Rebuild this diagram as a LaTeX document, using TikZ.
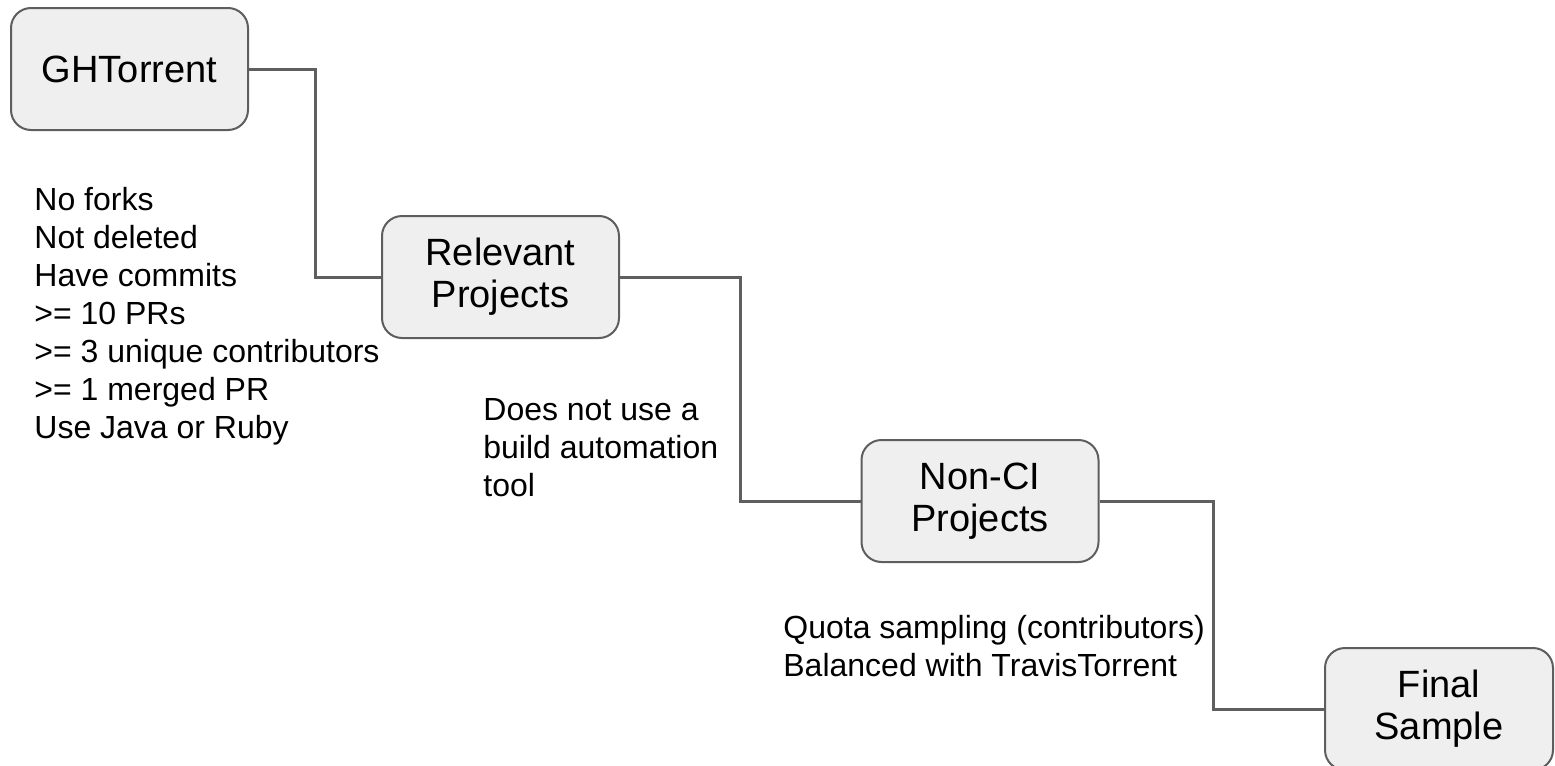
\documentclass[tikz,border=0pt]{standalone}
\usepackage{fontspec}
\setmainfont{Liberation Sans}
\definecolor{boxfill}{HTML}{EFEFEF}
\definecolor{boxline}{HTML}{5E5E5E}
\definecolor{conn}{HTML}{5F5F5F}
\tikzset{
  stagebox/.style={draw=boxline, fill=boxfill, line width=1pt, rounded corners=10pt,
    minimum width=118.5pt, minimum height=61pt, align=center, inner sep=0pt,
    font=\fontsize{19}{21}\selectfont},
  crit/.style={align=left, inner sep=0pt, anchor=base west,
    font=\fontsize{16}{19}\selectfont},
  link/.style={draw=conn, line width=1.5pt}
}
\begin{document}
\begin{tikzpicture}[x=0.5pt,y=-0.5pt]
\clip (0,0) rectangle (1555,766);
\useasboundingbox (0,0) rectangle (1555,766);
\node[stagebox] (gh) at (129.5,69) {GHTorrent};
\node[stagebox] (rel) at (500.5,277) {Relevant\\Projects};
\node[stagebox] (nci) at (980,501) {Non-CI\\Projects};
\node[stagebox, minimum width=114pt] (fin) at (1439,709) {Final\\Sample};
\coordinate (b1) at (315,170);
\coordinate (b2) at (740,390);
\coordinate (b3) at (1213,600);
\draw[link] (gh.east) -| (b1) |- (rel.west);
\draw[link] (rel.east) -| (b2) |- (nci.west);
\draw[link] (nci.east) -| (b3) |- (fin.west);
\node[crit] (c1) at (34,438) {No forks\\Not deleted\\Have commits\\>= 10 PRs\\>= 3 unique contributors\\>= 1 merged PR\\Use Java or Ruby};
\node[crit] (c2) at (483,496) {Does not use a\\build automation\\tool};
\node[crit] (c3) at (783,676) {Quota sampling (contributors)\\Balanced with TravisTorrent};
\end{tikzpicture}
\end{document}
